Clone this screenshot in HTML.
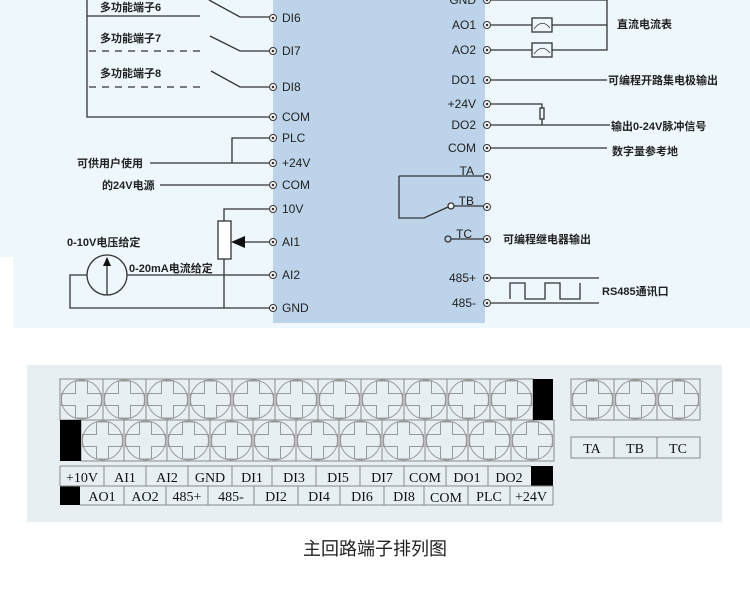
<!DOCTYPE html>
<html><head><meta charset="utf-8"><style>
html,body{margin:0;padding:0;background:#fff;}
svg{display:block;}
text{font-family:"Liberation Sans","Noto Sans CJK SC",sans-serif;fill:#222;}
.cn text{font-size:11px;font-weight:bold;}
.t text{font-size:12px;}
.s text{font-family:"Liberation Serif","Noto Serif CJK SC",serif;font-size:14px;fill:#111;}
</style></head><body>
<svg width="750" height="603" viewBox="0 0 750 603" xmlns="http://www.w3.org/2000/svg">
<defs>
<g id="scr">
<rect x="0" y="0" width="43" height="41" fill="none" stroke="#888" stroke-width="1"/>
<ellipse cx="21.5" cy="20.5" rx="20" ry="19.5" fill="none" stroke="#999" stroke-width="1"/>
<path d="M15.5 2 H27.5 V14.5 H41.5 V26.5 H27.5 V39 H15.5 V26.5 H1.5 V14.5 H15.5 Z" fill="none" stroke="#999" stroke-width="1"/>
</g>
<g id="tm"><circle r="3.5" fill="#fff" stroke="#333" stroke-width="1"/><circle r="1.3" fill="#333"/></g>
</defs>
<rect width="750" height="330" fill="#eef7fc"/>
<rect x="0" y="257" width="13" height="73" fill="#fff"/>
<rect x="0" y="328" width="750" height="5" fill="#fff"/>
<rect x="273" y="0" width="212" height="323" fill="#bcd3ea"/>
<g stroke="#333" stroke-width="1.3" fill="none">
<path d="M87 0 V117 H270"/>
<path d="M87 16 H200"/>
<path d="M89 51 H200" stroke-dasharray="7,6"/>
<path d="M89 87 H200" stroke-dasharray="7,6"/>
<path d="M209 0 L240 17 H270"/>
<path d="M210 36 L240 51 H270"/>
<path d="M211 71 L240 87 H270"/>
<path d="M270 138 H232 V163"/>
<path d="M150 163 H270"/>
<path d="M160 185 H270"/>
<path d="M270 209 H224 V221"/>
<rect x="218" y="221" width="13" height="38" fill="#fff"/>
<path d="M224 259 V308"/>
<path d="M245 242 H270"/>
<circle cx="107" cy="275" r="20"/>
<path d="M107 295 V258"/>
<path d="M127 275 H270"/>
<path d="M87 275 H70 V308 H270"/>
<path d="M490 0 H607 V50 H490"/>
<path d="M490 25 H607"/>
<rect x="532" y="18" width="20" height="14" fill="#eef7fc"/>
<rect x="532" y="43" width="20" height="14" fill="#eef7fc"/>
<path d="M534 29 Q542 18 550 28 M534 54 Q542 43 550 53" stroke-width="0.8"/>
<path d="M490 80 H607"/>
<path d="M490 104 H542 V108 M542 119 V125"/>
<rect x="540" y="108" width="4" height="11"/>
<path d="M490 125 H610"/>
<path d="M490 148 H607"/>
<path d="M399 176 H484"/>
<path d="M399 176 V218 H424 L448 207"/>
<circle cx="451" cy="206" r="3" fill="#eef7fc"/>
<path d="M454 206 H484"/>
<circle cx="448" cy="239" r="3" fill="#bcd3ea"/>
<path d="M451 239 H484"/>
<path d="M490 278 H599 M490 303 H599"/>
<path d="M510 299 V283 H525 V299 H545 V283 H560 V299 H580 V283"/>
</g>
<path d="M231 242 L245 236 V248 Z" fill="#111"/>
<path d="M107 257 L103 266 H111 Z" fill="#111"/>
<g>
<use href="#tm" x="273" y="18"/><use href="#tm" x="273" y="51"/><use href="#tm" x="273" y="87"/><use href="#tm" x="273" y="117"/><use href="#tm" x="273" y="138"/><use href="#tm" x="273" y="163"/><use href="#tm" x="273" y="185"/><use href="#tm" x="273" y="209"/><use href="#tm" x="273" y="242"/><use href="#tm" x="273" y="275"/><use href="#tm" x="273" y="308"/>
<use href="#tm" x="487" y="0"/><use href="#tm" x="487" y="25"/><use href="#tm" x="487" y="50"/><use href="#tm" x="487" y="80"/><use href="#tm" x="487" y="104"/><use href="#tm" x="487" y="125"/><use href="#tm" x="487" y="148"/><use href="#tm" x="487" y="177"/><use href="#tm" x="487" y="207"/><use href="#tm" x="487" y="239"/><use href="#tm" x="487" y="278"/><use href="#tm" x="487" y="303"/>
</g>
<g class="t">
<text x="282" y="22">DI6</text><text x="282" y="55">DI7</text><text x="282" y="91">DI8</text><text x="282" y="121">COM</text><text x="282" y="142">PLC</text><text x="282" y="167">+24V</text><text x="282" y="189">COM</text><text x="282" y="213">10V</text><text x="282" y="246">AI1</text><text x="282" y="279">AI2</text><text x="282" y="312">GND</text>
</g>
<g class="t" text-anchor="end">
<text x="476" y="4">GND</text><text x="476" y="29">AO1</text><text x="476" y="54">AO2</text><text x="476" y="84">DO1</text><text x="476" y="108">+24V</text><text x="476" y="129">DO2</text><text x="476" y="152">COM</text><text x="474" y="175">TA</text><text x="474" y="205">TB</text><text x="472" y="238">TC</text><text x="476" y="282">485+</text><text x="476" y="307">485-</text>
</g>
<g class="cn">
<text x="100" y="11">多功能端子6</text><text x="100" y="42">多功能端子7</text><text x="100" y="77">多功能端子8</text>
<text x="77" y="167">可供用户使用</text><text x="102" y="189">的24V电源</text>
<text x="67" y="246">0-10V电压给定</text><text x="129" y="272">0-20mA电流给定</text>
<text x="617" y="28">直流电流表</text><text x="608" y="84">可编程开路集电极输出</text>
<text x="611" y="130">输出0-24V脉冲信号</text><text x="612" y="155">数字量参考地</text>
<text x="503" y="243">可编程继电器输出</text><text x="602" y="295">RS485通讯口</text>
</g>
<rect x="27" y="365" width="695" height="157" fill="#e8eff3"/>
<g>
<use href="#scr" x="60" y="379"/><use href="#scr" x="103" y="379"/><use href="#scr" x="146" y="379"/><use href="#scr" x="189" y="379"/><use href="#scr" x="232" y="379"/><use href="#scr" x="275" y="379"/><use href="#scr" x="318" y="379"/><use href="#scr" x="361" y="379"/><use href="#scr" x="404" y="379"/><use href="#scr" x="447" y="379"/><use href="#scr" x="490" y="379"/>
<use href="#scr" x="81" y="420"/><use href="#scr" x="124" y="420"/><use href="#scr" x="167" y="420"/><use href="#scr" x="210" y="420"/><use href="#scr" x="253" y="420"/><use href="#scr" x="296" y="420"/><use href="#scr" x="339" y="420"/><use href="#scr" x="382" y="420"/><use href="#scr" x="425" y="420"/><use href="#scr" x="468" y="420"/><use href="#scr" x="511" y="420"/>
<use href="#scr" x="571" y="379"/><use href="#scr" x="614" y="379"/><use href="#scr" x="657" y="379"/>
</g>
<rect x="533" y="379" width="20" height="41" fill="#000"/>
<rect x="60" y="420" width="21" height="41" fill="#000"/>
<rect x="531" y="466" width="22" height="20" fill="#000"/>
<rect x="60" y="486" width="20" height="19" fill="#000"/>
<g fill="none" stroke="#888" stroke-width="1">
<path d="M60 466 H531 M60 486 H553 M80 505 H553 M60 466 V486 M553 486 V505"/>
<path d="M104 466 V486 M146 466 V486 M188 466 V486 M232 466 V486 M272 466 V486 M316 466 V486 M360 466 V486 M404 466 V486 M446 466 V486 M488 466 V486"/>
<path d="M124 486 V505 M166 486 V505 M208 486 V505 M254 486 V505 M298 486 V505 M340 486 V505 M384 486 V505 M424 486 V505 M468 486 V505 M510 486 V505"/>
<rect x="571" y="437" width="129" height="21"/>
<path d="M614 437 V458 M657 437 V458"/>
</g>
<g class="s" text-anchor="middle">
<text x="82" y="482">+10V</text><text x="125" y="482">AI1</text><text x="167" y="482">AI2</text><text x="210" y="482">GND</text><text x="252" y="482">DI1</text><text x="294" y="482">DI3</text><text x="338" y="482">DI5</text><text x="382" y="482">DI7</text><text x="425" y="482">COM</text><text x="467" y="482">DO1</text><text x="509" y="482">DO2</text>
<text x="102" y="501">AO1</text><text x="145" y="501">AO2</text><text x="187" y="501">485+</text><text x="231" y="501">485-</text><text x="276" y="501">DI2</text><text x="319" y="501">DI4</text><text x="362" y="501">DI6</text><text x="404" y="501">DI8</text><text x="446" y="502">COM</text><text x="489" y="501">PLC</text><text x="531" y="501">+24V</text>
<text x="592" y="453">TA</text><text x="635" y="453">TB</text><text x="678" y="453">TC</text>
</g>
<text x="375" y="555" text-anchor="middle" style="font-size:18px;fill:#222">主回路端子排列图</text>
</svg>
</body></html>
